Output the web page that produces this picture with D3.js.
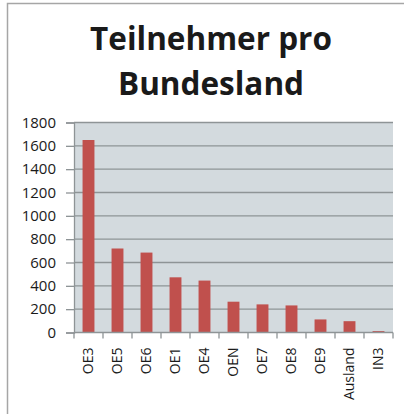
<!DOCTYPE html>
<html>
<head>
<meta charset="utf-8">
<script src="https://cdn.jsdelivr.net/npm/d3@7"></script>
<style>
  body { margin: 0; background: #fff; }
  text { font-family: "Open Sans", sans-serif; fill: #1a1a1a; }
</style>
</head>
<body>
<div id="chart"></div>
<script>
// data
const regions = ['OE3', 'OE5', 'OE6', 'OE1', 'OE4', 'OEN', 'OE7', 'OE8', 'OE9', 'Ausland', 'IN3'];
const participants = [1650, 720, 685, 473, 445, 264, 241, 232, 112, 97, 12];
const yTicks = [0, 200, 400, 600, 800, 1000, 1200, 1400, 1600, 1800];
const titleLines = ['Teilnehmer pro', 'Bundesland'];

const svgW = 404, svgH = 414;
const plot = { left: 74, right: 393, top: 122.5, bottom: 332.5 };

const svg = d3.select('#chart').append('svg')
  .attr('width', svgW)
  .attr('height', svgH);

// outer frame (runs off the right and bottom edge)
svg.append('rect')
  .attr('x', 7.5).attr('y', 3.5)
  .attr('width', 420).attr('height', 430)
  .attr('fill', '#fff')
  .attr('stroke', '#a6a6a6')
  .attr('stroke-width', 1.5);

// title
svg.append('text')
  .attr('text-anchor', 'middle')
  .style('font-size', '31.5px')
  .style('font-weight', 'bold')
  .selectAll('tspan')
  .data(titleLines)
  .join('tspan')
  .attr('x', 211)
  .attr('y', (d, i) => 50 + i * 45)
  .text(d => d);

const x = d3.scaleBand()
  .domain(regions)
  .range([plot.left, plot.right])
  .padding(0);

const y = d3.scaleLinear()
  .domain([0, 1800])
  .range([plot.bottom, plot.top]);

// plot background
svg.append('rect')
  .attr('x', plot.left).attr('y', plot.top)
  .attr('width', plot.right - plot.left)
  .attr('height', plot.bottom - plot.top)
  .attr('fill', '#d3dade');

// gridlines
svg.append('g')
  .selectAll('line')
  .data(yTicks.filter(v => v > 0))
  .join('line')
  .attr('x1', plot.left).attr('x2', plot.right)
  .attr('y1', d => y(d)).attr('y2', d => y(d))
  .attr('stroke', '#8e9496')
  .attr('stroke-width', 1.3);

// bars
const barFrac = 0.41;
svg.append('g')
  .selectAll('rect')
  .data(regions.map((r, i) => ({ r, v: participants[i] })))
  .join('rect')
  .attr('x', d => x(d.r) + x.bandwidth() * (1 - barFrac) / 2)
  .attr('width', x.bandwidth() * barFrac)
  .attr('y', d => y(d.v))
  .attr('height', d => y(0) - y(d.v))
  .attr('fill', '#c0504d');

// y axis
const yAxis = svg.append('g')
  .attr('transform', `translate(${plot.left},0)`)
  .call(d3.axisLeft(y).tickValues(yTicks).tickFormat(d3.format('d')).tickSize(8).tickPadding(10));
yAxis.selectAll('line, path').attr('stroke', '#8e9496').attr('stroke-width', 1.3);
yAxis.selectAll('text').style('font-size', '15px').attr('fill', '#1a1a1a');

// x axis: tick marks at band edges, labels rotated
const xg = svg.append('g');
xg.append('line')
  .attr('x1', plot.left).attr('x2', plot.right)
  .attr('y1', plot.bottom).attr('y2', plot.bottom)
  .attr('stroke', '#8e9496').attr('stroke-width', 1.3);
xg.selectAll('line.tick')
  .data(regions.concat(['_end']))
  .join('line')
  .attr('class', 'tick')
  .attr('x1', (d, i) => plot.left + i * x.step())
  .attr('x2', (d, i) => plot.left + i * x.step())
  .attr('y1', plot.bottom).attr('y2', plot.bottom + 6)
  .attr('stroke', '#8e9496').attr('stroke-width', 1.3);
xg.selectAll('text')
  .data(regions)
  .join('text')
  .attr('transform', d => `translate(${x(d) + x.bandwidth() / 2 + 4},${plot.bottom + 15}) rotate(-90)`)
  .attr('text-anchor', 'end')
  .style('font-size', '14px')
  .text(d => d);
</script>
</body>
</html>
